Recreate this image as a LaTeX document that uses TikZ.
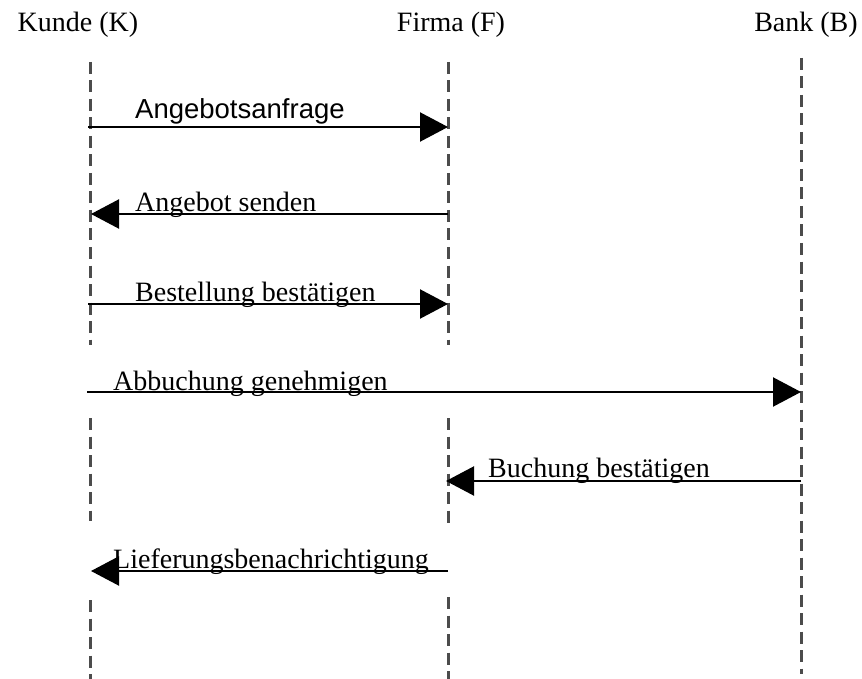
\documentclass[tikz,border=0pt]{standalone}
\usepackage{fontspec}
\setmainfont{Liberation Serif}
\newfontfamily\arialfont{Liberation Sans}
\usetikzlibrary{arrows.meta}

\begin{document}
\begin{tikzpicture}[x=1pt,y=-1pt,
  header/.style={anchor=base,inner sep=0pt,font=\fontsize{28}{32}\selectfont},
  msglabel/.style={anchor=base west,inner sep=0pt,font=\fontsize{28}{32}\selectfont},
  lifeline/.style={line width=3pt,black!70,dash pattern=on 12pt off 6.5pt},
  msg/.style={line width=2.2pt,-{Triangle[length=28pt,width=29pt]}}]

\useasboundingbox[fill=white] (0,0) rectangle (862,679);

% participants
\node[header] (K) at (78,32) {Kunde (K)};
\node[header] (F) at (451,32) {Firma (F)};
\node[header] (B) at (806,32) {Bank (B)};

% lifeline segments
\coordinate (k0) at (90,62);   \coordinate (k1) at (90,345);
\coordinate (k2) at (90,418);  \coordinate (k3) at (90,521);
\coordinate (k4) at (90,600);  \coordinate (k5) at (90,679);
\coordinate (f0) at (448,62);  \coordinate (f1) at (448,345);
\coordinate (f2) at (448,418); \coordinate (f3) at (448,523);
\coordinate (f4) at (448,597); \coordinate (f5) at (448,679);
\coordinate (b0) at (801,58);  \coordinate (b1) at (801,674);

\draw[lifeline] (k0) -- (k1);
\draw[lifeline] (k2) -- (k3);
\draw[lifeline] (k4) -- (k5);
\draw[lifeline] (f0) -- (f1);
\draw[lifeline] (f2) -- (f3);
\draw[lifeline] (f4) -- (f5);
\draw[lifeline] (b0) -- (b1);

% message end points
\coordinate (m1s) at (88,127);  \coordinate (m1e) at (448,127);
\coordinate (m2s) at (448,214); \coordinate (m2e) at (91,214);
\coordinate (m3s) at (88,304);  \coordinate (m3e) at (448,304);
\coordinate (m4s) at (87,392);  \coordinate (m4e) at (801,392);
\coordinate (m5s) at (801,481); \coordinate (m5e) at (446,481);
\coordinate (m6s) at (448,571); \coordinate (m6e) at (91,571);

\draw[msg] (m1s) -- (m1e);
\draw[msg] (m2s) -- (m2e);
\draw[msg] (m3s) -- (m3e);
\draw[msg] (m4s) -- (m4e);
\draw[msg] (m5s) -- (m5e);
\draw[msg] (m6s) -- (m6e);

% message labels
\node[msglabel,font=\fontsize{27.5}{32}\arialfont] (l1) at (135,119) {Angebotsanfrage};
\node[msglabel] (l2) at (135,212) {Angebot senden};
\node[msglabel] (l3) at (135,301) {Bestellung bestätigen};
\node[msglabel] (l4) at (113,390) {Abbuchung genehmigen};
\node[msglabel] (l5) at (488,477) {Buchung bestätigen};
\node[msglabel] (l6) at (113,568) {Lieferungsbenachrichtigung};

\end{tikzpicture}
\end{document}
